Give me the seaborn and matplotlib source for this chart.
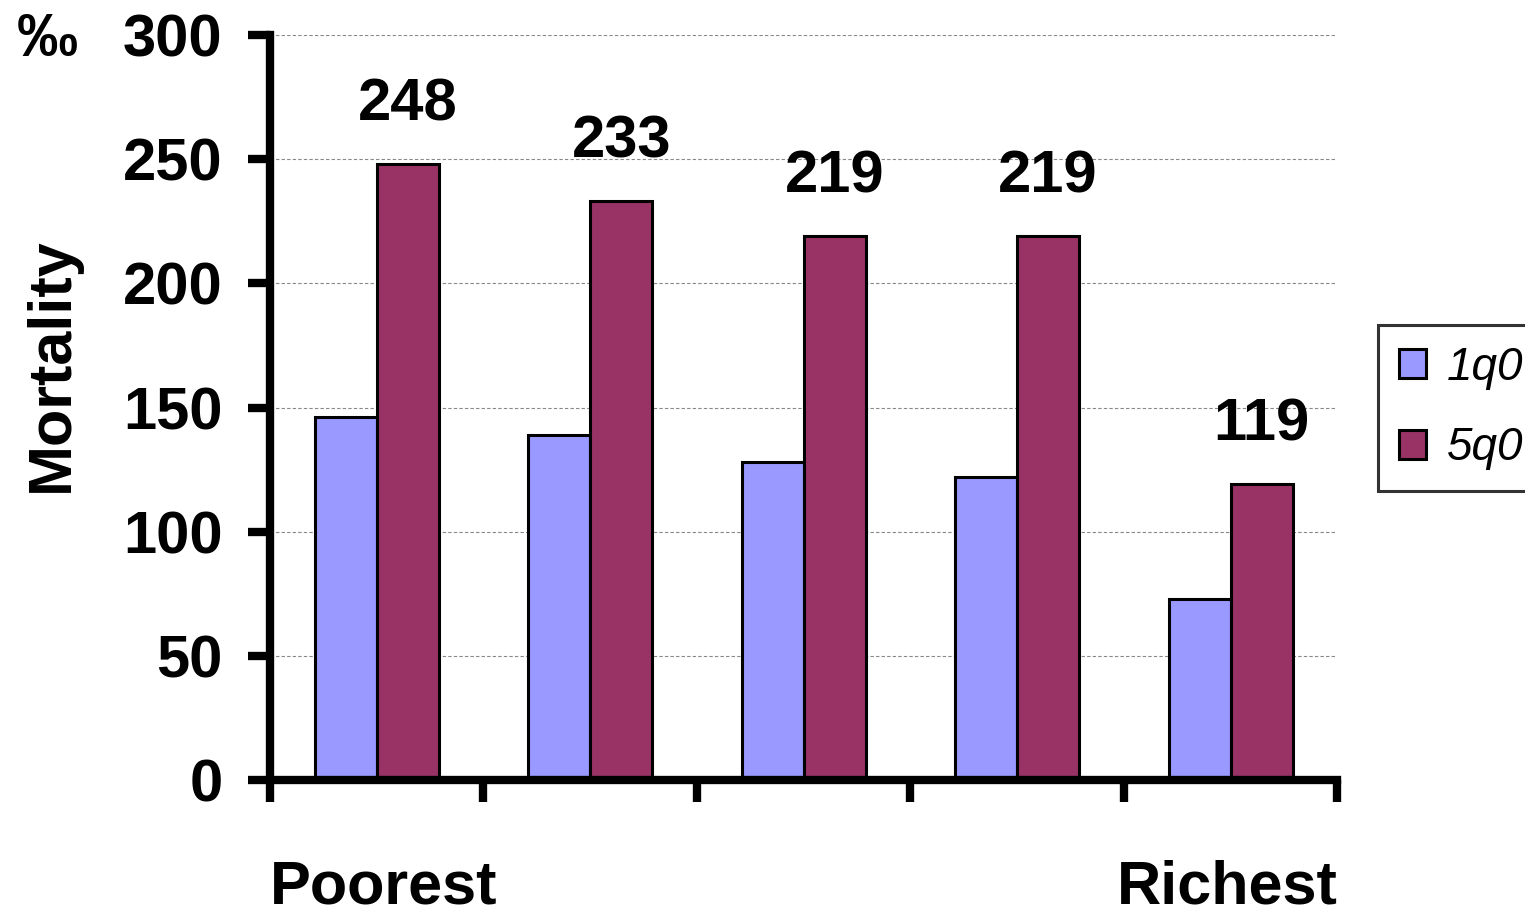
import matplotlib
matplotlib.use("Agg")
import matplotlib.pyplot as plt
import seaborn as sns
import pandas as pd
import matplotlib.transforms as mtransforms

# Data: child mortality (per mille) by wealth quintile
quintiles = ["Q1", "Q2", "Q3", "Q4", "Q5"]
series = ["1q0", "5q0"]
q1_values = [146, 139, 128, 122, 73]
q5_values = [248, 233, 219, 219, 119]
edge_labels = ["Poorest", "Richest"]
y_ticks = [0, 50, 100, 150, 200, 250, 300]
colors = ["#9999FF", "#993366"]

df = pd.DataFrame({
    "quintile": quintiles * 2,
    "series": [series[0]] * 5 + [series[1]] * 5,
    "value": q1_values + q5_values,
})

sns.set_style("white")
plt.rcParams["font.family"] = ["Liberation Sans", "DejaVu Sans"]
plt.rcParams["font.weight"] = "bold"
plt.rcParams["text.color"] = "black"
plt.rcParams["xtick.color"] = "black"
plt.rcParams["ytick.color"] = "black"

fig = plt.figure(figsize=(15.25, 9.14), dpi=100)
ax = fig.add_axes([0.177, 0.1466, 0.7, 0.8151])

sns.barplot(data=df, x="quintile", y="value", hue="series", palette=colors,
            width=0.58, edgecolor="black", linewidth=2.2, saturation=1,
            ax=ax, zorder=3)

ax.set_ylim(0, 300)
ax.set_xlim(-0.5, 4.5)
ax.set_yticks(y_ticks)
ax.set_yticklabels([str(v) for v in y_ticks], fontsize=43, fontweight="bold")
ax.set_xticks([i - 0.5 for i in range(6)])
ax.set_xticklabels([])
ax.set_xlabel("")
ax.set_ylabel("")

# Dashed grid lines
ax.yaxis.grid(True, linestyle=(0, (3, 2)), color="#888888", linewidth=0.8, zorder=0)
ax.set_axisbelow(True)

for side in ["top", "right"]:
    ax.spines[side].set_visible(False)
for side in ["left", "bottom"]:
    ax.spines[side].set_linewidth(6)
    ax.spines[side].set_color("black")
    ax.spines[side].set_zorder(5)
ax.tick_params(axis="both", which="major", direction="out", length=16, width=6,
               color="black", bottom=True, left=True)
ax.tick_params(axis="y", pad=18, labelcolor="black")

# Value labels above the 5q0 bars
n = len(quintiles)
for bar, val in zip(ax.patches[n:2 * n], q5_values):
    ax.annotate(str(val), (bar.get_x() + bar.get_width() / 2, val),
                xytext=(0, 23), textcoords="offset points",
                ha="center", va="bottom", fontsize=43, fontweight="bold")

# End labels along the x axis
trans = mtransforms.blended_transform_factory(ax.transData, ax.transAxes)
ax.text(-0.5, -0.145, edge_labels[0], transform=trans, ha="left", va="center",
        fontsize=44, fontweight="bold")
ax.text(4.5, -0.145, edge_labels[1], transform=trans, ha="right", va="center",
        fontsize=44, fontweight="bold")

fig.text(52 / 1525, 1 - 365 / 914, "Mortality", rotation=90, ha="center",
         va="center", fontsize=44, fontweight="bold")
fig.text(47 / 1525, 1 - 40 / 914, "‰", ha="center", va="center",
         fontsize=44, fontweight="bold")

handles, labels = ax.get_legend_handles_labels()
ax.get_legend().remove()
leg = ax.legend(handles, labels, loc="center left",
                bbox_to_anchor=(1378 / 1525, 1 - 408 / 914),
                bbox_transform=fig.transFigure, frameon=True, fancybox=False,
                prop={"family": "Liberation Sans", "style": "italic",
                      "weight": "normal", "size": 33},
                handlelength=0.6, handleheight=0.6, handletextpad=0.45,
                labelspacing=0.8, borderpad=0.45, borderaxespad=0)
leg.get_frame().set_edgecolor("black")
leg.get_frame().set_linewidth(2.2)
for p in leg.get_patches():
    p.set_edgecolor("black")
    p.set_linewidth(2.2)

fig.savefig("out.png", dpi=100, facecolor="white")
